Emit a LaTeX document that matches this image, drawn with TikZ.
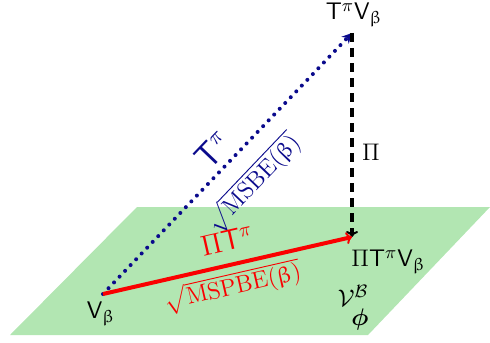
\documentclass[tikz,border=0pt]{standalone}
\usepackage{amsmath,amssymb}
\usepackage{bm}
\usepackage{upgreek}
\usetikzlibrary{arrows.meta,positioning}
\definecolor{PlaneGreen}{RGB}{178,230,178}
\definecolor{ErrBlue}{RGB}{10,10,140}
\definecolor{ProjRed}{RGB}{250,0,0}
\newcommand{\Tpi}{\mathsf{T}^{\pi}}
\newcommand{\Vb}{\mathsf{V}_{\upbeta}}

\begin{document}
\begin{tikzpicture}[x=0.5pt,y=-0.5pt,
    plane/.style={fill=PlaneGreen,draw=none},
    bellman/.style={ErrBlue,line width=2pt,line cap=round,
                    dash pattern=on 0pt off 4pt,-{Stealth[length=5pt,width=5pt]}},
    proj/.style={black,line width=1.8pt,dash pattern=on 4.5pt off 3pt,
                 -{To[length=3pt,width=6pt,line width=1pt]}},
    projbell/.style={ProjRed,line width=2pt,
                     -{To[length=3pt,width=6pt,line width=1pt]}},
    lbl/.style={inner sep=1pt},
    pt/.style={lbl,font=\fontsize{12.5}{14}\selectfont},
    err/.style={lbl,font=\fontsize{11.5}{13}\selectfont}
  ]
  \useasboundingbox (0,0) rectangle (490,342);
  % the feature subspace
  \fill[plane] (137,207) -- (490,207) -- (368,335) -- (10,335) -- cycle;
  \coordinate (vb) at (103,294);
  \coordinate (tvb) at (352,33);
  \coordinate (ptvb) at (352,237);
  \draw[bellman] (vb) -- (tvb)
    node[lbl,pos=0.5,sloped,above=2pt,font=\fontsize{16}{18}\selectfont] (tlbl) {$\Tpi$}
    node[err,pos=0.51,sloped,below=7pt,text=ErrBlue] (msbe) {$\sqrt{\mathrm{MSBE}(\upbeta)}$};
  \draw[proj] (tvb) -- (ptvb)
    node[pt] (pilbl) at (371,152) {$\Pi$};
  \draw[projbell] (vb) -- (ptvb)
    node[lbl,pos=0.52,sloped,above=5pt,text=ProjRed,font=\fontsize{14.4}{16}\selectfont] (ptlbl) {$\Pi\Tpi$}
    node[err,pos=0.5,sloped,below=2pt,text=ProjRed] (mspbe) {$\sqrt{\mathrm{MSPBE}(\upbeta)}$};
  % point labels
  \node[pt] (tvblbl) at (354,15) {$\Tpi\Vb$};
  \node[pt,anchor=west] (ptvblbl) at (349,262) {$\Pi\Tpi\Vb$};
  \node[pt] (vblbl) at (101,314) {$\Vb$};
  \node[pt] (space) at (353,296) {$\mathcal{V}^{\mathcal{B}}$};
  \node[pt] (phi) at (360,319) {$\bm{\phi}$};
\end{tikzpicture}
\end{document}
